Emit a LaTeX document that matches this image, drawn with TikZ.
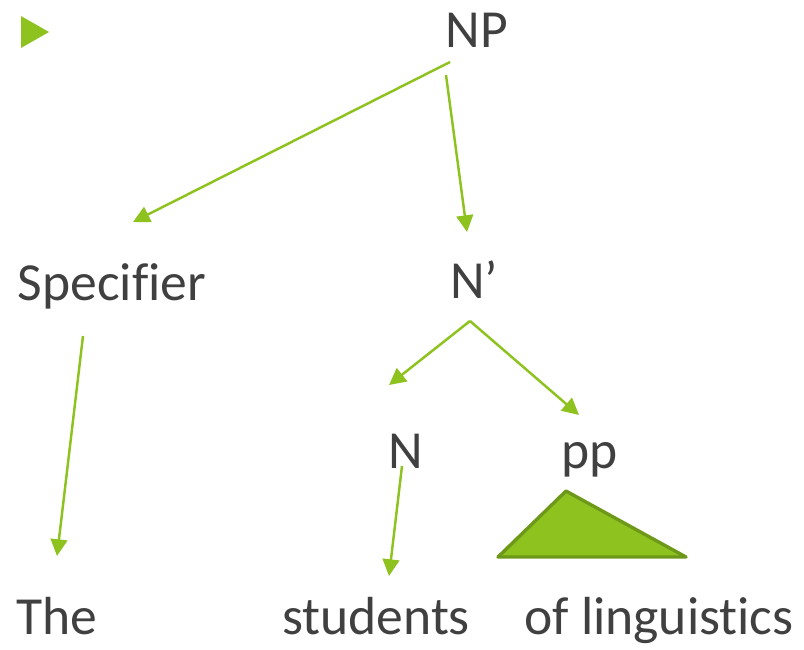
\documentclass[tikz,border=0pt]{standalone}
\usepackage{fontspec}
\setmainfont[Ligatures=NoCommon]{Carlito}
\usepackage{xcolor}
\usepackage{tikz}
\usetikzlibrary{positioning,calc,arrows.meta}

\definecolor{leaf}{HTML}{8DC21F}
\definecolor{leafdark}{HTML}{6E981A}
\definecolor{ink}{HTML}{404040}

\begin{document}
\begin{tikzpicture}[x=0.02cm, y=-0.02cm,
    lbl/.style={anchor=base, text=ink, inner sep=0pt, font=\fontsize{30.5}{36}\selectfont},
    branch/.style={draw=leaf, line width=1.4pt, -{Triangle[length=9.5pt,width=9.5pt]}}]
    \useasboundingbox (0,0) rectangle (804,649);

    % bullet
    \fill [leaf] (21,16) -- (49,32) -- (21,48) -- cycle;

    % labels
    \node [lbl] (np) at (477,47) {NP};
    \node [lbl] (spec) at (112,300) {Specifier};
    \node [lbl] (nbar) at (474,298) {N’};
    \node [lbl] (n) at (406,468) {N};
    \node [lbl] (pp) at (590,468) {pp};
    \node [lbl] (the) at (57,634) {The};
    \node [lbl] (stud) at (376,634) {students};
    \node [lbl] (ling) at (659,634) {of linguistics};

    % ends of the branches
    \coordinate (np-l) at (450,62);
    \coordinate (np-r) at (446,75);
    \coordinate (spec-top) at (133,222);
    \coordinate (spec-bot) at (83,336);
    \coordinate (nbar-top) at (467,232);
    \coordinate (nbar-bot) at (470,321);
    \coordinate (n-top) at (389,385);
    \coordinate (n-bot) at (402,466);
    \coordinate (pp-top) at (579,415);
    \coordinate (the-top) at (57,556);
    \coordinate (stud-top) at (389,576);

    % Connections
    \foreach \a/\b in {np-l/spec-top, np-r/nbar-top, spec-bot/the-top,
                       nbar-bot/n-top, nbar-bot/pp-top, n-bot/stud-top} {
        \draw [branch] (\a) -- (\b);
    }

    % roof over the pp
    \filldraw [fill=leaf, draw=leafdark, line width=1.9pt, line join=round]
        (566,491) -- (686,557) -- (498,557) -- cycle;
\end{tikzpicture}
\end{document}
